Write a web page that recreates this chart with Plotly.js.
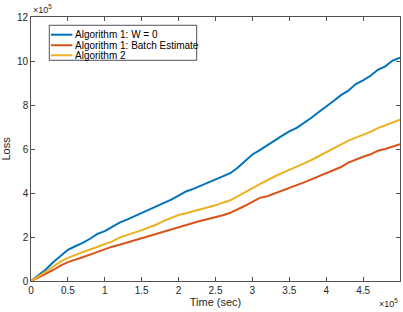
<!DOCTYPE html>
<html>
<head>
<meta charset="utf-8">
<script src="https://cdn.plot.ly/plotly-3.0.1.min.js"></script>
<style>html,body{margin:0;padding:0;background:#fff;}#chart{width:403px;height:312px;}</style>
</head>
<body>
<div id="chart"></div>
<script>
// Time in units of 1e5 seconds
const timeE5 = [0,0.1,0.2,0.3,0.4,0.5,0.6,0.7,0.8,0.9,1.0,1.1,1.2,1.3,1.4,1.5,1.6,1.7,1.8,1.9,2.0,2.1,2.2,2.3,2.4,2.5,2.6,2.7,2.8,2.9,3.0,3.1,3.2,3.3,3.4,3.5,3.6,3.7,3.8,3.9,4.0,4.1,4.2,4.3,4.4,4.5,4.6,4.7,4.8,4.9,5.0];
// Loss in units of 1e5
const lossAlg1W0 = [0,0.26,0.52,0.85,1.15,1.42,1.58,1.73,1.92,2.14,2.27,2.45,2.65,2.79,2.94,3.09,3.23,3.39,3.53,3.70,3.88,4.07,4.19,4.33,4.46,4.60,4.74,4.90,5.15,5.45,5.75,5.95,6.15,6.38,6.60,6.80,6.96,7.17,7.42,7.68,7.92,8.18,8.45,8.65,8.95,9.12,9.33,9.60,9.76,10.02,10.15];
const lossAlg1Batch = [0,0.15,0.32,0.50,0.70,0.86,0.96,1.08,1.20,1.33,1.45,1.56,1.65,1.75,1.85,1.95,2.04,2.15,2.25,2.35,2.47,2.56,2.66,2.74,2.82,2.90,2.99,3.10,3.25,3.42,3.60,3.78,3.85,3.97,4.10,4.22,4.35,4.48,4.62,4.76,4.90,5.04,5.18,5.38,5.52,5.65,5.76,5.92,6.00,6.10,6.22];
const lossAlg2 = [0,0.20,0.42,0.66,0.88,1.05,1.19,1.31,1.43,1.56,1.67,1.80,1.97,2.10,2.20,2.31,2.43,2.57,2.73,2.87,3.00,3.08,3.17,3.24,3.33,3.44,3.56,3.67,3.85,4.02,4.22,4.40,4.58,4.75,4.90,5.06,5.22,5.35,5.50,5.68,5.85,6.02,6.20,6.38,6.52,6.65,6.78,6.95,7.08,7.20,7.33];
const seriesNames = ["Algorithm 1: W = 0","Algorithm 1: Batch Estimate","Algorithm 2"];
const xTicks = [0,0.5,1,1.5,2,2.5,3,3.5,4,4.5,5];
const xTickText = ["0","0.5","1","1.5","2","2.5","3","3.5","4","4.5","5"];
const yTicks = [0,2,4,6,8,10,12];

const colors = ["#0072BD","#D95319","#EDB120"];
const seriesY = [lossAlg1W0, lossAlg1Batch, lossAlg2];
const traces = seriesY.map((ys,i)=>({
  type:'scatter', mode:'lines', x:timeE5, y:ys, name:seriesNames[i],
  line:{color:colors[i], width:2}, showlegend:false
}));

const FONT = 'Liberation Sans, Arial, sans-serif';
const axisCommon = {
  showgrid:false, zeroline:false, showline:true, linecolor:'#262626', linewidth:0.8,
  mirror:'ticks', ticks:'inside', ticklen:4, tickcolor:'#262626', tickwidth:0.8,
  tickfont:{family:FONT, size:10, color:'#262626'}
};

// Compact MATLAB-style legend (paper coordinates)
const legBox = {x0:0.0496, x1:0.449, y0:0.836, y1:0.9686};
const legRowsY = [0.933, 0.893, 0.855];
const legLineX = [0.054, 0.112];
const legTextX = 0.1146;
const shapes = [
  {type:'rect', xref:'paper', yref:'paper', x0:legBox.x0, x1:legBox.x1, y0:legBox.y0, y1:legBox.y1,
   line:{color:'#262626', width:0.8}, fillcolor:'#fff', layer:'above'}
].concat(seriesNames.map((n,i)=>({
  type:'line', xref:'paper', yref:'paper', x0:legLineX[0], x1:legLineX[1], y0:legRowsY[i], y1:legRowsY[i],
  line:{color:colors[i], width:2}, layer:'above'
})));
const legendTexts = seriesNames.map((n,i)=>({
  xref:'paper', yref:'paper', x:legTextX, y:legRowsY[i], xanchor:'left', yanchor:'middle',
  showarrow:false, text:n, font:{family:FONT, size:10, color:'#000'}
}));

const layout = {
  width:403, height:312,
  margin:{l:31, r:3, t:17, b:31},
  paper_bgcolor:'#fff', plot_bgcolor:'#fff',
  showlegend:false,
  xaxis:Object.assign({}, axisCommon, {range:[0,5], tickvals:xTicks, ticktext:xTickText,
          title:{text:'Time (sec)', standoff:2, font:{family:FONT, size:11, color:'#262626'}}}),
  yaxis:Object.assign({}, axisCommon, {range:[0,12], tickvals:yTicks,
          title:{text:'Loss', standoff:4, font:{family:FONT, size:11, color:'#262626'}}}),
  shapes:shapes,
  annotations:[
    {xref:'paper', yref:'paper', x:0, y:1, xanchor:'left', yanchor:'bottom', showarrow:false, yshift:0,
     text:'×10<sup>5</sup>', font:{family:FONT, size:9, color:'#262626'}},
    {xref:'paper', yref:'paper', x:1, y:0, xanchor:'right', yanchor:'top', showarrow:false, yshift:-14,
     text:'×10<sup>5</sup>', font:{family:FONT, size:9, color:'#262626'}}
  ].concat(legendTexts)
};

Plotly.newPlot('chart', traces, layout, {displayModeBar:false, staticPlot:true});
</script>
</body>
</html>
